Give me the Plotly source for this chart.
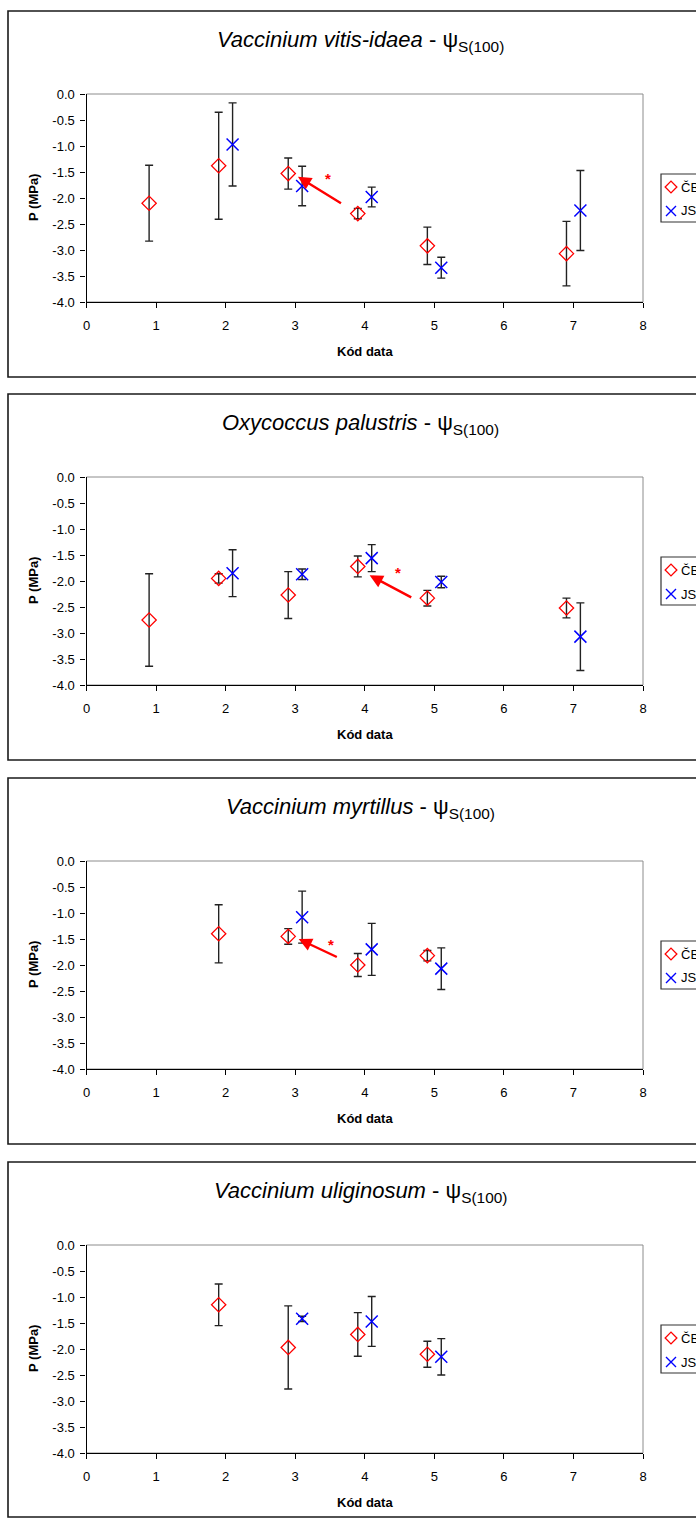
import plotly.graph_objects as go

W, H = 696, 1521
FONT = "Arial, Liberation Sans, sans-serif"

# ---- data -----------------------------------------------------------------
species = ["Vaccinium vitis-idaea", "Oxycoccus palustris",
           "Vaccinium myrtillus", "Vaccinium uliginosum"]

# ČB site (red diamonds), plotted 0.1 left of the date code
cb_codes = [[1, 2, 3, 4, 5, 7], [1, 2, 3, 4, 5, 7], [2, 3, 4, 5], [2, 3, 4, 5]]
cb_mean = [[-2.10, -1.38, -1.53, -2.30, -2.92, -3.07],
           [-2.75, -1.95, -2.27, -1.72, -2.33, -2.52],
           [-1.40, -1.45, -2.00, -1.82],
           [-1.15, -1.97, -1.72, -2.10]]
cb_sd = [[0.73, 1.03, 0.30, 0.10, 0.36, 0.62],
         [0.89, 0.09, 0.45, 0.20, 0.15, 0.19],
         [0.56, 0.15, 0.22, 0.10],
         [0.40, 0.80, 0.42, 0.25]]

# JS site (blue crosses), plotted 0.1 right of the date code
js_codes = [[2, 3, 4, 5, 7], [2, 3, 4, 5, 7], [3, 4, 5], [3, 4, 5]]
js_mean = [[-0.97, -1.77, -1.98, -3.34, -2.24],
           [-1.85, -1.87, -1.56, -2.02, -3.07],
           [-1.08, -1.70, -2.07],
           [-1.42, -1.47, -2.15]]
js_sd = [[0.80, 0.38, 0.19, 0.20, 0.77],
         [0.45, 0.10, 0.26, 0.11, 0.65],
         [0.50, 0.50, 0.40],
         [0.05, 0.48, 0.35]]

# significant shift arrows: (x_from, y_from, x_to, y_to, x_star, y_star)
arrows = [(3.68, -2.12, 3.04, -1.59, 3.47, -1.63),
          (4.69, -2.33, 4.07, -1.89, 4.48, -1.84),
          (3.62, -1.86, 3.05, -1.50, 3.52, -1.60),
          None]

series_names = ["ČB", "JS"]
x_ticks = [0, 1, 2, 3, 4, 5, 6, 7, 8]
y_ticks = [0.0, -0.5, -1.0, -1.5, -2.0, -2.5, -3.0, -3.5, -4.0]
y_ticklabels = ["0.0", "-0.5", "-1.0", "-1.5", "-2.0", "-2.5", "-3.0", "-3.5", "-4.0"]

# ---- layout geometry (pixels) --------------------------------------------
panel_tops = [11, 394, 778, 1162]
panel_heights = [366, 366, 366, 355]
plot_l, plot_r = 86.5, 643
plot_dt, plot_db = 83, 291   # plot top / bottom offset from panel top
offset = 0.1


def fx(px):
    return px / W


def fy(py):
    return 1 - py / H


fig = go.Figure()
shapes, annotations = [], []
layout = {}

for i, name in enumerate(species):
    n = i + 1
    xa = "x" if n == 1 else f"x{n}"
    ya = "y" if n == 1 else f"y{n}"
    top = panel_tops[i]
    pt, pb = top + plot_dt, top + plot_db

    fig.add_trace(go.Scatter(
        x=[c - offset for c in cb_codes[i]], y=cb_mean[i],
        mode="markers", xaxis=xa, yaxis=ya, showlegend=False,
        marker=dict(symbol="diamond-open", size=11, color="#ff0000",
                    line=dict(width=1.3, color="#ff0000")),
        error_y=dict(type="data", array=cb_sd[i], visible=True,
                     color="#222222", thickness=1.4, width=4)))
    fig.add_trace(go.Scatter(
        x=[c + offset for c in js_codes[i]], y=js_mean[i],
        mode="markers", xaxis=xa, yaxis=ya, showlegend=False,
        marker=dict(symbol="x-thin-open", size=12, color="#0000ff",
                    line=dict(width=1.5, color="#0000ff")),
        error_y=dict(type="data", array=js_sd[i], visible=True,
                     color="#222222", thickness=1.4, width=4)))

    axis_common = dict(showgrid=False, zeroline=False, showline=True,
                       linecolor="#000000", linewidth=1.3, ticks="outside",
                       ticklen=5, tickwidth=1, tickcolor="#000000",
                       tickfont=dict(family=FONT, size=13, color="#000000"))
    layout["xaxis" if n == 1 else f"xaxis{n}"] = dict(
        axis_common, domain=[fx(plot_l), fx(plot_r)], range=[0, 8],
        tickvals=x_ticks, ticktext=[str(t) for t in x_ticks],
        anchor=ya, ticklabelstandoff=6)
    layout["yaxis" if n == 1 else f"yaxis{n}"] = dict(
        axis_common, domain=[fy(pb), fy(pt)], range=[-4, 0],
        tickvals=y_ticks, ticktext=y_ticklabels, anchor=xa,
        ticklabelstandoff=3)

    # panel frame
    shapes.append(dict(type="rect", xref="paper", yref="paper",
                       x0=fx(8), x1=fx(W + 60),
                       y0=fy(top + panel_heights[i]), y1=fy(top),
                       line=dict(color="#1a1a1a", width=1.6), layer="below"))
    # plot-area border (top/right visible in gray)
    shapes.append(dict(type="rect", xref="paper", yref="paper",
                       x0=fx(plot_l), x1=fx(plot_r), y0=fy(pb), y1=fy(pt),
                       line=dict(color="#8c8c8c", width=1), layer="below"))

    # title
    annotations.append(dict(
        xref="paper", yref="paper", x=fx(360), y=fy(top + 30),
        xanchor="center", yanchor="middle", showarrow=False,
        text=f"<i>{name}</i> - ψ<sub>S(100)</sub>",
        font=dict(family=FONT, size=22, color="#000000")))
    # axis titles
    annotations.append(dict(
        xref="paper", yref="paper", x=fx(365), y=fy(top + 340),
        xanchor="center", yanchor="middle", showarrow=False,
        text="<b>Kód data</b>", font=dict(family=FONT, size=13, color="#000000")))
    annotations.append(dict(
        xref="paper", yref="paper", x=fx(33), y=fy((pt + pb) / 2),
        xanchor="center", yanchor="middle", showarrow=False, textangle=-90,
        text="<b>P (MPa)</b>", font=dict(family=FONT, size=13, color="#000000")))

    # shift arrow and significance star
    if arrows[i] is not None:
        x0, y0, x1, y1, xs, ys = arrows[i]
        annotations.append(dict(
            xref=xa, yref=ya, axref=xa, ayref=ya, x=x1, y=y1, ax=x0, ay=y0,
            text="", showarrow=True, arrowhead=2, arrowsize=1.1,
            arrowwidth=2.4, arrowcolor="#ff0000"))
        annotations.append(dict(
            xref=xa, yref=ya, x=xs, y=ys, xanchor="center", yanchor="middle",
            showarrow=False, text="<b>*</b>",
            font=dict(family=FONT, size=15, color="#ff0000")))

    # legend box (runs past the right edge of the page)
    lg_top, lg_bot = top + 163, top + 211
    shapes.append(dict(type="rect", xref="paper", yref="paper",
                       x0=fx(661), x1=fx(W + 40), y0=fy(lg_bot), y1=fy(lg_top),
                       line=dict(color="#333333", width=1.2), fillcolor="white",
                       layer="below"))
    for k, label in enumerate(series_names):
        annotations.append(dict(
            xref="paper", yref="paper", x=fx(679), y=fy(top + 176 + 24 * k),
            xanchor="left", yanchor="middle", showarrow=False, text=label,
            font=dict(family=FONT, size=13, color="#000000")))

# legend symbols drawn on a full-page pixel overlay
leg_y_cb = [t + 176 for t in panel_tops]
leg_y_js = [t + 200 for t in panel_tops]
fig.add_trace(go.Scatter(
    x=[671] * 4, y=leg_y_cb, mode="markers", xaxis="x5", yaxis="y5",
    showlegend=False, hoverinfo="skip",
    marker=dict(symbol="diamond-open", size=9, color="#ff0000",
                line=dict(width=1.3, color="#ff0000"))))
fig.add_trace(go.Scatter(
    x=[671] * 4, y=leg_y_js, mode="markers", xaxis="x5", yaxis="y5",
    showlegend=False, hoverinfo="skip",
    marker=dict(symbol="x-thin-open", size=10, color="#0000ff",
                line=dict(width=1.4, color="#0000ff"))))
layout["xaxis5"] = dict(domain=[0, 1], range=[0, W], visible=False,
                        anchor="y5", fixedrange=True)
layout["yaxis5"] = dict(domain=[0, 1], range=[H, 0], visible=False,
                        anchor="x5", fixedrange=True)

fig.update_layout(
    width=W, height=H, plot_bgcolor="rgba(0,0,0,0)", paper_bgcolor="white",
    margin=dict(l=0, r=0, t=0, b=0, autoexpand=False),
    shapes=shapes, annotations=annotations, showlegend=False,
    font=dict(family=FONT, color="#000000"), **layout)

fig.write_html("out.html")
